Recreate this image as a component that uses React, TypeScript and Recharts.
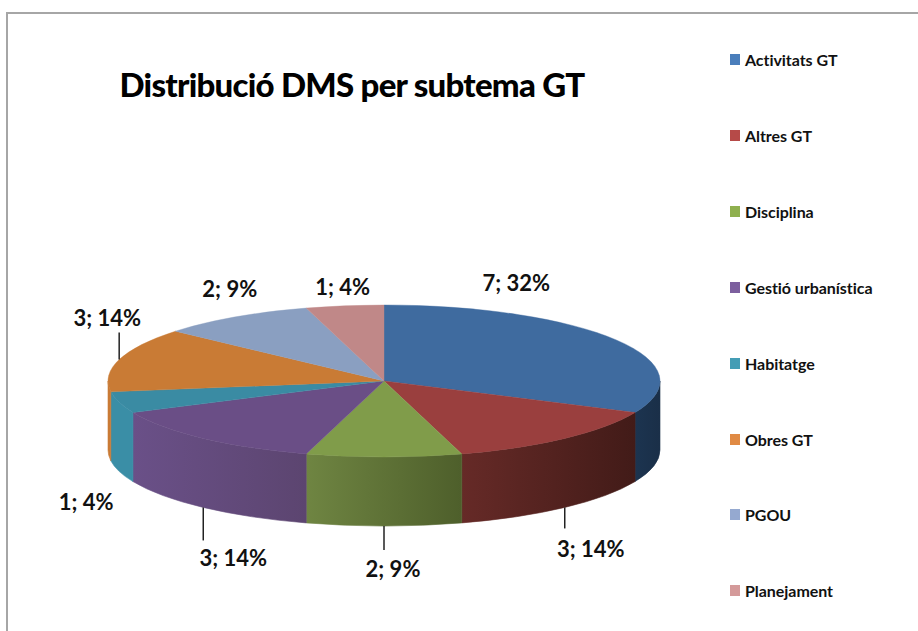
import React from "react";
import { PieChart, Pie, Legend } from "recharts";

const categories = ["Activitats GT", "Altres GT", "Disciplina", "Gestió urbanística", "Habitatge", "Obres GT", "PGOU", "Planejament"];
const counts = [7, 3, 2, 3, 1, 3, 2, 1];
const percents = [32, 14, 9, 14, 4, 14, 9, 4];
const topColors = ["#3f6b9f", "#9a3f3e", "#809c4a", "#6a4e86", "#3a8ba3", "#c97b35", "#8a9fc1", "#c08888"];
const wallLeftColors = ["#1c3450", "#662a27", "#6f8542", "#6a5088", "#3a8ea6", "#c97a35", "#8a9fc1", "#c08888"];
const wallRightColors = ["#1a2f48", "#421b18", "#4e5f2b", "#5c4570", "#3a8ea6", "#c97a35", "#8a9fc1", "#c08888"];
const legendColors = ["#4a7ebb", "#b64a48", "#8fb04f", "#7c5f9e", "#449db5", "#e08a44", "#95a9d0", "#d49a9a"];

const chartData = categories.map((name, i) => ({ name, value: counts[i], pct: percents[i], fill: topColors[i] }));

// Layout, separate from the data
const CX = 384, CY = 381, RX = 276, RY = 76, DEPTH = 69;
const labelOffsets = [[-100, -57], [26, 41], [9, 42], [30, 50], [-33, 30], [-12, -42], [-5, -29], [-2, -19]];
const leaderLengths = [0, 21, 24, 33, 0, -27, 0, 0];
const legendRows = [60, 136, 212, 288, 364, 440, 515, 591];
const FONT = "Lato, 'Open Sans', sans-serif";

const pt = (a: number) => {
  const r = (a * Math.PI) / 180;
  return [CX + RX * Math.cos(r), CY - RY * Math.sin(r)];
};

function Slice3D(props: any) {
  const { startAngle, endAngle, fill, index } = props;
  const [sx, sy] = pt(startAngle);
  const [ex, ey] = pt(endAngle);
  const large = Math.abs(startAngle - endAngle) > 180 ? 1 : 0;
  const top = `M${CX},${CY} L${sx},${sy} A${RX},${RY} 0 ${large} 1 ${ex},${ey} Z`;
  const ws = Math.min(startAngle, 0);
  const we = Math.max(endAngle, -180);
  let wall = null;
  if (ws > we) {
    const [ax, ay] = pt(ws);
    const [bx, by] = pt(we);
    const id = `wall-${index}`;
    wall = (
      <>
        <defs>
          <linearGradient id={id} gradientUnits="userSpaceOnUse" x1={Math.min(ax, bx)} x2={Math.max(ax, bx)} y1={0} y2={0}>
            <stop offset="0" stopColor={wallLeftColors[index]} />
            <stop offset="1" stopColor={wallRightColors[index]} />
          </linearGradient>
        </defs>
        <path
          d={`M${ax},${ay} A${RX},${RY} 0 0 1 ${bx},${by} L${bx},${by + DEPTH} A${RX},${RY} 0 0 0 ${ax},${ay + DEPTH} Z`}
          fill={`url(#${id})`}
          stroke={`url(#${id})`}
          strokeWidth={0.6}
        />
      </>
    );
  }
  return (
    <g>
      {wall}
      <path d={top} fill={fill} stroke={fill} strokeWidth={0.4} />
    </g>
  );
}

function SliceLabel(props: any) {
  const { midAngle, index, value, payload } = props;
  const [mx, my0] = pt(midAngle);
  const lower = Math.sin((midAngle * Math.PI) / 180) < 0;
  const my = lower ? my0 + DEPTH : my0;
  const [dx, dy] = labelOffsets[index];
  const len = leaderLengths[index];
  return (
    <g>
      {len !== 0 && <line x1={mx} y1={my} x2={mx} y2={my + len} stroke="#222" strokeWidth={1.5} />}
      <text x={mx + dx} y={my + dy} textAnchor="middle" dominantBaseline="central" fontFamily={FONT} fontWeight={700} fontSize={22} fill="#111">
        {`${value}; ${payload?.pct ?? percents[index]}%`}
      </text>
    </g>
  );
}

function LegendBox() {
  return (
    <div style={{ position: "relative", width: 188, height: 631 }}>
      {categories.map((c, i) => (
        <div key={c} style={{ position: "absolute", left: 0, top: legendRows[i] - 30 - 16, height: 30, display: "flex", alignItems: "center", whiteSpace: "nowrap" }}>
          <span style={{ width: 10, height: 11, background: legendColors[i], marginRight: 5, display: "inline-block" }} />
          <span style={{ fontFamily: FONT, fontWeight: 700, fontSize: 16, letterSpacing: -0.05, color: "#111" }}>{c}</span>
        </div>
      ))}
    </div>
  );
}

export default function App() {
  return (
    <div style={{ position: "absolute", left: 0, top: 0, width: 918, height: 631, overflow: "hidden", background: "#fff" }}>
      <div style={{ position: "absolute", left: 6, top: 12, width: 930, height: 640, border: "2px solid #a6a6a6" }} />
      <PieChart width={918} height={631} margin={{ top: 0, right: 0, bottom: 0, left: 0 }} style={{ position: "absolute", left: 0, top: 0 }}>
        <text x={352} y={84} textAnchor="middle" dominantBaseline="central" fontFamily={FONT} fontWeight={900} fontSize={33} letterSpacing={-0.75} fill="#000">
          Distribució DMS per subtema GT
        </text>
        <Pie
          data={chartData}
          dataKey="value"
          nameKey="name"
          cx={CX}
          cy={CY}
          outerRadius={RX}
          startAngle={90}
          endAngle={-270}
          stroke="none"
          shape={(p: any, i: number) => <Slice3D {...p} index={p.index ?? i} />}
          label={(p: any) => <SliceLabel {...p} />}
          labelLine={false}
          isAnimationActive={false}
        />
        <Legend content={<LegendBox />} wrapperStyle={{ position: "absolute", left: 730, top: 30, width: 188, height: 601 }} />
      </PieChart>
    </div>
  );
}
